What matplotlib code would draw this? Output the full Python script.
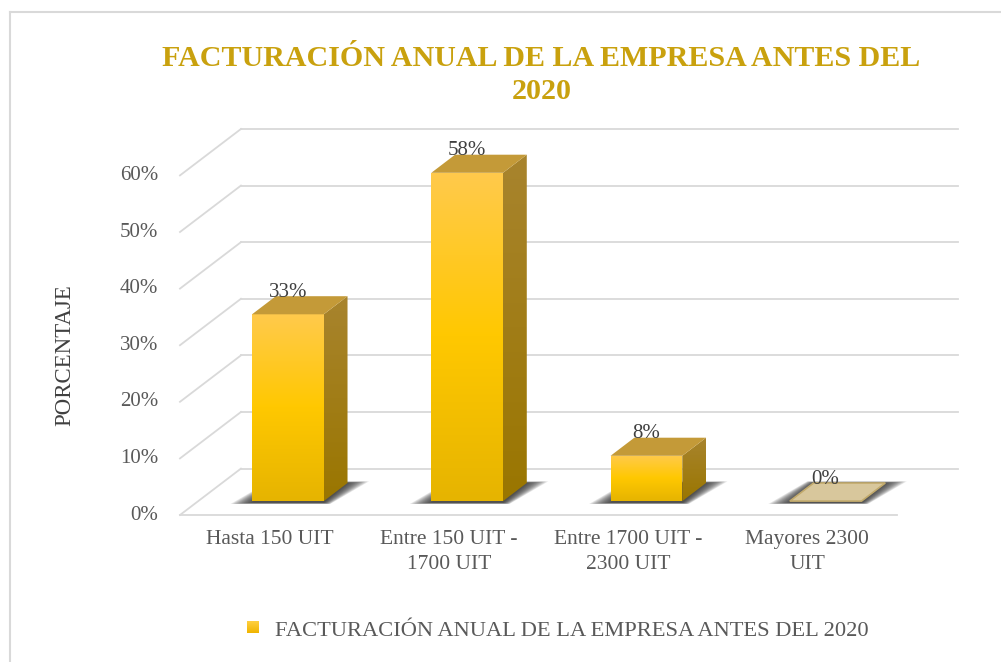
import numpy as np
import matplotlib
matplotlib.use("Agg")
import matplotlib.pyplot as plt
from matplotlib.patches import Polygon
from matplotlib.colors import LinearSegmentedColormap
from matplotlib.lines import Line2D

plt.rcParams['font.family'] = ['Liberation Serif', 'DejaVu Serif']

# data
categories = ["Hasta 150 UIT", "Entre 150 UIT -\n1700 UIT",
              "Entre 1700 UIT -\n2300 UIT", "Mayores 2300\nUIT"]
values = [33, 58, 8, 0]
value_labels = ["33%", "58%", "8%", "0%"]
yticks = [0, 10, 20, 30, 40, 50, 60]
ytick_labels = ["0%", "10%", "20%", "30%", "40%", "50%", "60%"]
title = "FACTURACIÓN ANUAL DE LA EMPRESA ANTES DEL\n2020"
series_name = "FACTURACIÓN ANUAL DE LA EMPRESA ANTES DEL 2020"

# 3d look: depth vector (data units) and bar geometry
dx, dy = 0.34, 8.2
f0, fd = 0.30, 0.39
bw = 0.40

front_cols = ["#ffca4c", "#ffc800", "#e6b400"]
side_cols = ["#a8842e", "#9a7600"]
top_col = "#c49a38"
grid_col = "#d9d9d9"
txt_col = "#595959"

fig = plt.figure(figsize=(10.01, 6.62), dpi=100)
ax = fig.add_axes([0, 0, 1, 1])
ax.axis('off')


def grad_fill(verts, colors, z):
    poly = Polygon(verts, closed=True, facecolor='none', edgecolor='none')
    ax.add_patch(poly)
    xs = [v[0] for v in verts]
    ys = [v[1] for v in verts]
    cmap = LinearSegmentedColormap.from_list('g', colors)
    img = ax.imshow(np.linspace(0, 1, 256).reshape(-1, 1), cmap=cmap,
                    extent=(min(xs), max(xs), min(ys), max(ys)),
                    origin='upper', aspect='auto', zorder=z,
                    interpolation='bilinear')
    img.set_clip_path(poly)


n = len(categories)
x0, x1 = -0.5, n - 0.5

# walls / floor grid
for t in yticks:
    ax.plot([x0 + dx, x1 + dx], [t + dy, t + dy], color=grid_col, lw=1.3, zorder=1)
    ax.plot([x0, x0 + dx], [t, t + dy], color=grid_col, lw=1.3, zorder=1)
ax.plot([x0, x1], [0, 0], color=grid_col, lw=1.3, zorder=1)

# tick labels
for t, lab in zip(yticks, ytick_labels):
    ax.text(x0 - 0.12, t, lab, ha='right', va='center', fontsize=15, color=txt_col)
for i, lab in enumerate(categories):
    ax.text(i, -2.6, lab, ha='center', va='top', fontsize=15.5, color=txt_col,
            linespacing=1.45)

# bars
for i, v in enumerate(values):
    xl = i + f0 * dx - bw / 2
    xr = i + f0 * dx + bw / 2
    yb = f0 * dy
    yt = yb + v
    ddx, ddy = fd * dx, fd * dy
    # blurred shadow on the floor
    for e in np.linspace(0.12, 0.0, 14):
        ey = e * 6
        shadow = [(xl - e, yb - 0.3 - ey * 0.3), (xr + e * 0.3, yb - 0.3 - ey * 0.3),
                  (xr + ddx + e, yb + ddy + ey * 0.4), (xl + ddx - e * 0.3, yb + ddy + ey * 0.4)]
        ax.add_patch(Polygon(shadow, closed=True, facecolor='#2a2a2a',
                             edgecolor='none', alpha=0.11, zorder=2))
    if v > 0:
        grad_fill([(xl, yb), (xr, yb), (xr, yt), (xl, yt)], front_cols, 3)
        grad_fill([(xr, yb), (xr + ddx, yb + ddy), (xr + ddx, yt + ddy), (xr, yt)],
                  side_cols, 3)
        ax.add_patch(Polygon([(xl, yt), (xr, yt), (xr + ddx, yt + ddy), (xl + ddx, yt + ddy)],
                             closed=True, facecolor=top_col, edgecolor='none', zorder=3))
    else:
        ax.add_patch(Polygon([(xl, yt), (xr, yt), (xr + ddx, yt + ddy), (xl + ddx, yt + ddy)],
                             closed=True, facecolor='#d8c79c', edgecolor='#c2aa6c',
                             lw=1.2, zorder=3))
    ax.text(i + f0 * dx, yt + 3.9, value_labels[i], ha='center', va='center',
            fontsize=15, color='#404040', zorder=5)

ax.set_xlim(-1.504, 4.080)
ax.set_ylim(-25.97, 90.99)

# title, axis title
fig.text(0.541, 1 - 75 / 662, title, ha='center', va='center', fontsize=21.6,
         fontweight='bold', color='#c9a10e', linespacing=1.25)
fig.text(65 / 1001, 1 - 355 / 662, "PORCENTAJE", rotation=90, ha='center',
         va='center', fontsize=16.5, color='#404040')

# legend
lax = fig.add_axes([247 / 1001, 1 - 633 / 662, 12 / 1001, 12 / 662])
lax.imshow(np.linspace(0, 1, 64).reshape(-1, 1),
           cmap=LinearSegmentedColormap.from_list('l', ["#ffd040", "#f0b400"]),
           aspect='auto')
lax.axis('off')
fig.text(275 / 1001, 1 - 632 / 662, series_name, ha='left', va='center',
         fontsize=16.2, color=txt_col)

# chart border
fig.add_artist(Line2D([10 / 1001, 10 / 1001], [0, 1 - 12 / 662],
                      transform=fig.transFigure, color=grid_col, lw=1.5))
fig.add_artist(Line2D([10 / 1001, 1], [1 - 12 / 662, 1 - 12 / 662],
                      transform=fig.transFigure, color=grid_col, lw=1.5))

fig.savefig("out.png", dpi=100, facecolor='white')
